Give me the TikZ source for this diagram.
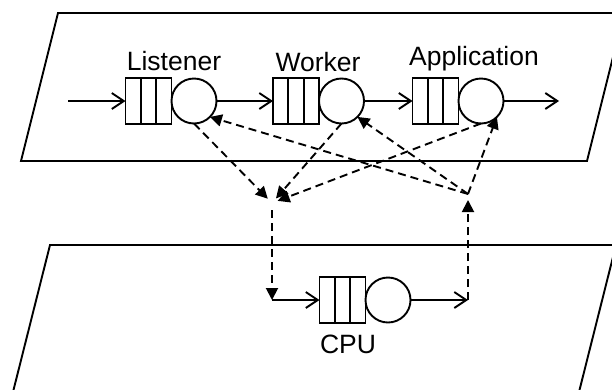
\documentclass[tikz,border=0pt]{standalone}
\usepackage{fontspec}
\setmainfont{Liberation Sans}
\usetikzlibrary{positioning,arrows.meta}

\tikzset{
  queue/.style={draw, minimum width=46pt, minimum height=46pt, inner sep=0pt, outer sep=0pt},
  server/.style={draw, circle, minimum size=45pt, inner sep=0pt, outer sep=0pt},
  lbl/.style={font=\fontsize{26.5}{30}\selectfont, inner sep=0pt, anchor=base},
  flow/.style={-{Straight Barb[length=12pt,width=16pt]}},
  ctrl/.style={dash pattern=on 8pt off 5pt, -{Triangle[length=12pt,width=12pt]}},
}

\begin{document}
\begin{tikzpicture}[x=1pt, y=-1pt, line width=1.9pt]
\useasboundingbox (0,0) rectangle (612,389);
\clip (0,0) rectangle (612,389);
% planes
\draw (58,13) -- (624,13) -- (587,161) -- (21,161) -- cycle;
\draw (50,245) -- (616,245) -- (579,392) -- (13,392) -- cycle;
% queues and servers
\node[queue] (lq) at (148.5,101) {};
\node[server, right=0pt of lq] (ls) {};
\node[queue] (wq) at (296,101) {};
\node[server, right=0pt of wq] (ws) {};
\node[queue] (aq) at (435.5,101) {};
\node[server, right=0pt of aq] (as) {};
\node[queue] (cq) at (342.5,300) {};
\node[server, right=0pt of cq] (cs) {};
\foreach \q in {lq,wq,aq,cq}
  \draw ([xshift=-7.7pt]\q.north) -- ([xshift=-7.7pt]\q.south)
        ([xshift=7.7pt]\q.north) -- ([xshift=7.7pt]\q.south);
% labels
\node[lbl] (llbl) at (174,70) {Listener};
\node[lbl] (wlbl) at (318,71) {Worker};
\node[lbl] (albl) at (474,65) {Application};
\node[lbl] (clbl) at (348,353) {CPU};
% points
\coordinate (in) at (68,101);
\coordinate (out) at (559,101);
\coordinate (jn) at (272,203);
\coordinate (cin) at (272,300);
\coordinate (cout) at (468,300);
\coordinate (fan) at (468,194);
% request flow
\draw[flow] (in) -- (lq.west);
\draw[flow] (ls.east) -- (wq.west);
\draw[flow] (ws.east) -- (aq.west);
\draw[flow] (as.east) -- (out);
\draw[flow] (cin) -- (cq.west);
\draw[flow] (cs.east) -- (cout);
% cpu sharing
\draw[ctrl, shorten >=6pt] (ls.south) -- (jn);
\draw[ctrl, shorten >=6pt] (ws.south) -- (jn);
\draw[ctrl, shorten >=6pt] (as.south) -- (jn);
\draw[ctrl, shorten <=7pt] (jn) -- (cin);
\draw[ctrl, shorten >=6pt] (cout) -- (fan);
\draw[ctrl] (fan) -- (ls.south east);
\draw[ctrl] (fan) -- (ws.south east);
\draw[ctrl] (fan) -- (as.south east);
\end{tikzpicture}
\end{document}
